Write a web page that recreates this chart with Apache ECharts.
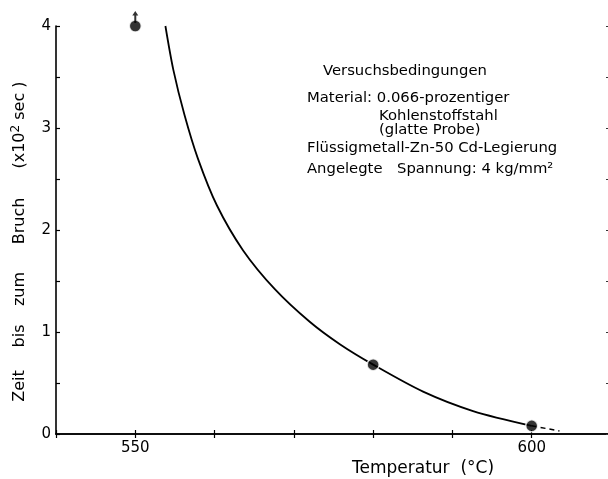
<!DOCTYPE html>
<html>
<head>
<meta charset="utf-8">
<script src="https://cdn.jsdelivr.net/npm/echarts@6/dist/echarts.min.js"></script>
<style>
html,body{margin:0;padding:0;background:#fff;}
#chart{width:608px;height:479px;}
</style>
</head>
<body>
<div id="chart"></div>
<script>
// Curve: time to fracture vs temperature
const curveT = [553.8, 554.8, 556.2, 557.9, 560.3, 563.6, 567.6, 572.0, 575.8, 580.0, 586.3, 592.6, 600.0];
const curveV = [4.0, 3.57, 3.13, 2.70, 2.24, 1.80, 1.42, 1.10, 0.88, 0.68, 0.415, 0.225, 0.08];
// Measured points
const pointT = [550, 580, 600];
const pointV = [4.0, 0.68, 0.08];
// Run-out (arrow) point
const arrowT = [550];
const arrowV = [4.0];
// Dashed extrapolation
const dashT = [600, 603.5];
const dashV = [0.08, 0.03];
// Tick labels
const xTickLabels = [550, 600];
const yTickLabels = [0, 1, 2, 3, 4];

const FONT = 'DejaVu Sans';
const zip = (a, b) => a.map((v, i) => [v, b[i]]);

const chart = echarts.init(document.getElementById('chart'), null, {renderer: 'canvas'});

const xBase = {
  type: 'value', min: 540, max: 610, interval: 10,
  axisLine: {show: true, lineStyle: {color: '#000', width: 1.6}},
  axisTick: {show: true, inside: true, length: 4, lineStyle: {color: '#000', width: 1.2}},
  splitLine: {show: false}
};
const yBase = {
  type: 'value', min: 0, max: 4, interval: 0.5,
  axisLine: {show: true, lineStyle: {color: '#000', width: 1.6}},
  axisTick: {show: true, inside: true, length: 4, lineStyle: {color: '#000', width: 1.2}},
  splitLine: {show: false}
};

const txt = (x, y, text, size, align) => ({
  type: 'text', x: x, y: y,
  style: {text: text, fill: '#000', font: size + 'px "' + FONT + '"', textVerticalAlign: 'middle', textAlign: align || 'left'}
});
const vtxt = (x, y, text, size) => ({
  type: 'text', x: x, y: y, rotation: Math.PI / 2,
  style: {text: text, fill: '#000', font: size + 'px "' + FONT + '"', textAlign: 'center', textVerticalAlign: 'middle'}
});

chart.setOption({
  backgroundColor: '#fff',
  animation: false,
  grid: {left: 56, width: 555, top: 26, height: 408, containLabel: false, outerBoundsMode: 'none'},
  xAxis: [
    Object.assign({}, xBase, {
      position: 'bottom',
      axisLabel: {
        show: true, margin: 7, color: '#000', fontFamily: FONT, fontSize: 15,
        formatter: v => xTickLabels.indexOf(v) >= 0 ? String(v) : ''
      }
    }),
    Object.assign({}, xBase, {position: 'top', axisLabel: {show: false}})
  ],
  yAxis: [
    Object.assign({}, yBase, {
      position: 'left',
      axisLabel: {
        show: true, margin: 5, color: '#000', fontFamily: FONT, fontSize: 15,
        formatter: v => yTickLabels.indexOf(v) >= 0 ? String(v) : ''
      }
    }),
    Object.assign({}, yBase, {
      position: 'right',
      axisTick: {show: true, inside: true, length: 5, lineStyle: {color: '#333', width: 1}},
      axisLabel: {show: false}
    })
  ],
  series: [
    {
      type: 'line', data: zip(curveT, curveV), smooth: 0.3, showSymbol: false,
      lineStyle: {color: '#000', width: 1.8}, clip: true, z: 2
    },
    {
      type: 'line', data: zip(dashT, dashV), showSymbol: false,
      lineStyle: {color: '#000', width: 1.5, type: [5, 4]}, z: 2
    },
    {
      type: 'scatter', data: zip(pointT, pointV), symbol: 'circle', symbolSize: 12,
      itemStyle: {color: '#000', borderColor: '#fff', borderWidth: 1.5}, clip: false, z: 5
    },
    {
      type: 'scatter', data: zip(arrowT, arrowV),
      symbol: 'path://M-1,3.5 L1,3.5 L1,12 L-1,12 Z M-3,4.5 L0,0 L3,4.5 Z',
      symbolSize: [6, 12], symbolOffset: [0, -9],
      itemStyle: {color: '#000'}, clip: false, z: 6
    }
  ],
  graphic: [
    txt(323, 71, 'Versuchsbedingungen', 14.8),
    txt(307, 98, 'Material: 0.066-prozentiger', 14.8),
    txt(379, 116, 'Kohlenstoffstahl', 14.8),
    txt(379, 130, '(glatte Probe)', 14.8),
    txt(307, 148, 'Flüssigmetall-Zn-50 Cd-Legierung', 14.8),
    txt(307, 169, 'Angelegte', 14.8),
    txt(397, 169, 'Spannung: 4 kg/mm²', 14.8),
    txt(423, 469, 'Temperatur  (°C)', 17, 'center'),
    vtxt(20, 386, 'Zeit', 16),
    vtxt(20, 336, 'bis', 16),
    vtxt(20, 289, 'zum', 16),
    vtxt(20, 221, 'Bruch', 16),
    {
      type: 'text', x: 20, y: 125, rotation: Math.PI / 2,
      style: {
        text: '{a|(x10}{s|2}{a| sec )}', textAlign: 'center', textVerticalAlign: 'middle',
        rich: {
          a: {fontFamily: FONT, fontSize: 16, fill: '#000', color: '#000'},
          s: {fontFamily: FONT, fontSize: 12, fill: '#000', color: '#000', padding: [0, 0, 9, 0]}
        }
      }
    }
  ]
});
</script>
</body>
</html>
